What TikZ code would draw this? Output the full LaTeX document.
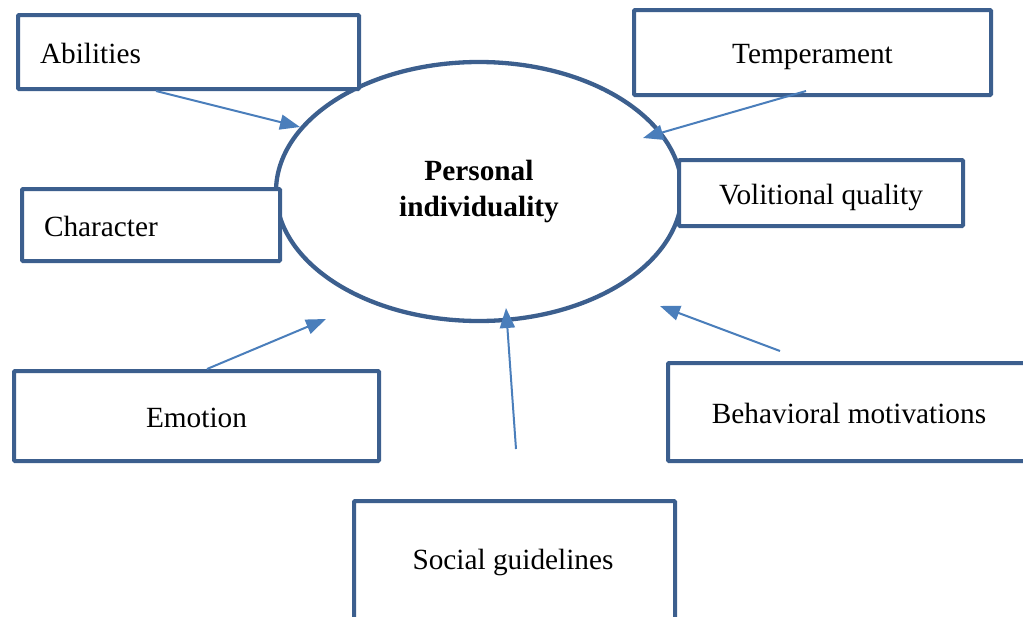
\documentclass[tikz,border=0pt]{standalone}
\usepackage{fontspec}
\setmainfont{Liberation Serif}
\usetikzlibrary{arrows.meta,shapes.geometric}
\definecolor{boxblue}{HTML}{3C5F8E}
\definecolor{arrowblue}{HTML}{4A7EBB}
\tikzset{
  box/.style={draw=boxblue, line width=4pt, fill=white, rectangle, rounded corners=1pt,
    inner sep=0pt, font=\fontsize{29.3}{34}\selectfont, text=black,
    text height=24pt, text depth=2pt},
  leftbox/.style={box, align=left, inner xsep=22pt},
  oval/.style={draw=boxblue, line width=4.3pt, ellipse, inner sep=0pt,
    font=\fontsize{29.3}{36}\selectfont\bfseries, align=center},
  conn/.style={draw=arrowblue, line width=2pt, -{Triangle[length=20pt,width=15pt]}}
}
\begin{document}
\begin{tikzpicture}[x=1pt,y=-1pt]
\useasboundingbox (0,0) rectangle (1023,616);
% central ellipse
\node[oval, minimum width=406pt, minimum height=259pt] (pi) at (479,191.5) {Personal\\individuality};
% boxes
\node[leftbox, minimum height=74pt, text width=297pt] (abil) at (188.5,52) {Abilities};
\node[box, minimum width=357pt, minimum height=85pt] (temp) at (812.5,52.5) {Temperament};
\node[leftbox, minimum height=72pt, text width=214pt] (char) at (151,225) {Character};
\node[box, minimum width=284pt, minimum height=66pt] (vol) at (821,193) {Volitional quality};
\node[box, minimum width=365pt, minimum height=90pt] (emo) at (196.5,416) {Emotion};
\node[box, minimum width=362pt, minimum height=98pt] (beh) at (849,412) {Behavioral motivations};
\node[box, minimum width=321pt, minimum height=124pt] (soc) at (514.5,563) {};
\node[font=\fontsize{29.3}{34}\selectfont, inner sep=0pt, text height=24pt, text depth=2pt] (soct) at (513,558) {Social guidelines};
% connector end points
\coordinate (a1) at (abil.south -| 156,0);
\coordinate (a2) at (300,127);
\coordinate (t1) at (806,91);
\coordinate (t2) at (643,138);
\coordinate (e1) at (emo.north -| 207,0);
\coordinate (e2) at (326,319);
\coordinate (s1) at (516,449);
\coordinate (s2) at (506,308);
\coordinate (b1) at (780,351);
\coordinate (b2) at (660,306);
% connectors
\draw[conn] (a1) -- (a2);
\draw[conn] (t1) -- (t2);
\draw[conn] (e1) -- (e2);
\draw[conn] (s1) -- (s2);
\draw[conn] (b1) -- (b2);
\end{tikzpicture}
\end{document}
